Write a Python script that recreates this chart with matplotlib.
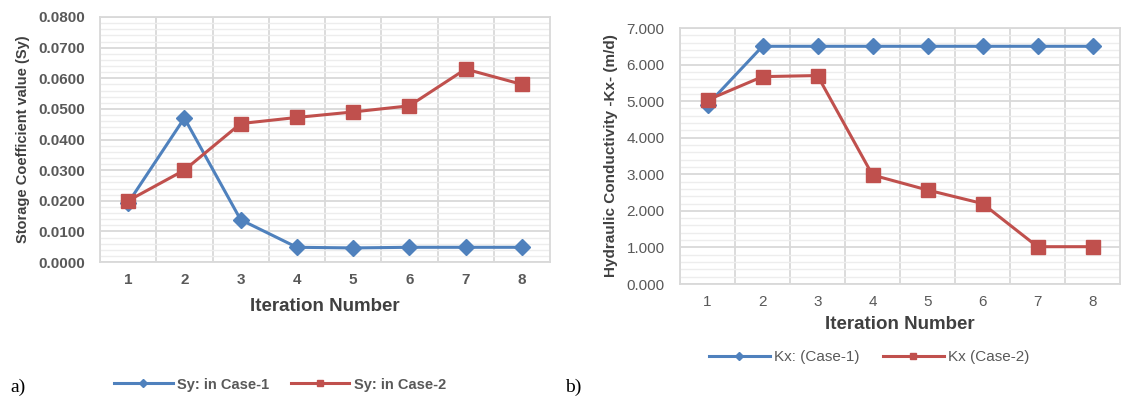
import matplotlib
matplotlib.use('Agg')
import matplotlib.pyplot as plt
from matplotlib.ticker import MultipleLocator, FixedLocator

plt.rcParams['font.family'] = ['Liberation Sans', 'DejaVu Sans']

iterations = [1, 2, 3, 4, 5, 6, 7, 8]

# storage coefficient (Sy)
sy_case1 = [0.0193, 0.0470, 0.0138, 0.0048, 0.0046, 0.0048, 0.0048, 0.0048]
sy_case2 = [0.0200, 0.0300, 0.0452, 0.0472, 0.0490, 0.0510, 0.0630, 0.0580]

# hydraulic conductivity (Kx)
kx_case1 = [4.90, 6.50, 6.50, 6.50, 6.50, 6.50, 6.50, 6.50]
kx_case2 = [5.03, 5.67, 5.70, 2.98, 2.57, 2.20, 1.02, 1.02]

blue = '#4F81BD'
red = '#C0504D'
txt = '#595959'


def style_axes(ax, major, minor, ymax):
    ax.set_xlim(0.5, 8.5)
    ax.set_ylim(0, ymax)
    ax.set_xticks(iterations)
    ax.xaxis.set_minor_locator(FixedLocator([i + 0.5 for i in range(0, 8)]))
    ax.yaxis.set_major_locator(MultipleLocator(major))
    ax.yaxis.set_minor_locator(MultipleLocator(minor))
    ax.grid(which='major', color='#D9D9D9', linewidth=1.3)
    ax.grid(which='minor', axis='y', color='#EDEDED', linewidth=1.0)
    ax.grid(which='major', axis='x', visible=False)
    ax.grid(which='minor', axis='x', color='#D9D9D9', linewidth=1.3)
    ax.set_axisbelow(True)
    for s in ax.spines.values():
        s.set_color('#D9D9D9')
        s.set_linewidth(1.3)
    ax.tick_params(which='both', length=0, colors=txt)
    ax.tick_params(axis='y', pad=11)
    ax.tick_params(axis='x', pad=8)


fig = plt.figure(figsize=(11.21, 4.0), dpi=100)

# a) storage coefficient
ax1 = fig.add_axes([100 / 1121, 1 - 262 / 400, 450 / 1121, 245 / 400])
style_axes(ax1, 0.01, 0.002, 0.08)
ax1.plot(iterations, sy_case1, color=blue, lw=2.2, marker='D', ms=8, label='Sy: in Case-1')
ax1.plot(iterations, sy_case2, color=red, lw=2.2, marker='s', ms=10, label='Sy: in Case-2')
ax1.yaxis.set_major_formatter(plt.FuncFormatter(lambda v, p: f'{v:.4f}'))
for lab in ax1.get_xticklabels() + ax1.get_yticklabels():
    lab.set_fontweight('bold')
    lab.set_fontsize(11)
ax1.set_ylabel('Storage Coefficient value (Sy)', fontsize=10.5, fontweight='bold', color='#404040', labelpad=6)
ax1.set_xlabel('Iteration Number', fontsize=13.5, fontweight='bold', color='#404040', labelpad=8)
leg1 = ax1.legend(loc='center', bbox_to_anchor=(0.4, -0.5), ncol=2, frameon=False,
                  prop={'size': 10.5, 'weight': 'bold'}, handlelength=4, columnspacing=1.5,
                  markerscale=0.5, handletextpad=0.3)
for t in leg1.get_texts():
    t.set_color(txt)

# b) hydraulic conductivity
ax2 = fig.add_axes([680 / 1121, 1 - 284 / 400, 440 / 1121, 256 / 400])
style_axes(ax2, 1.0, 0.2, 7.0)
ax2.plot(iterations, kx_case1, color=blue, lw=2.2, marker='D', ms=8, label='Kx: (Case-1)')
ax2.plot(iterations, kx_case2, color=red, lw=2.2, marker='s', ms=10, label='Kx (Case-2)')
ax2.yaxis.set_major_formatter(plt.FuncFormatter(lambda v, p: f'{v:.3f}'))
for lab in ax2.get_xticklabels() + ax2.get_yticklabels():
    lab.set_fontsize(11)
ax2.set_ylabel('Hydraulic Conductivity -Kx- (m/d)', fontsize=11, fontweight='bold', color='#404040', labelpad=6)
ax2.set_xlabel('Iteration Number', fontsize=13.5, fontweight='bold', color='#404040', labelpad=5)
leg2 = ax2.legend(loc='center', bbox_to_anchor=(0.43, -0.285), ncol=2, frameon=False,
                  prop={'size': 11}, handlelength=4, columnspacing=1.5,
                  markerscale=0.5, handletextpad=0.3)
for t in leg2.get_texts():
    t.set_color(txt)

fig.text(10 / 1121, 1 - 387 / 400, 'a)', family='Liberation Serif', fontsize=14, va='center')
fig.text(565 / 1121, 1 - 387 / 400, 'b)', family='Liberation Serif', fontsize=14, va='center')

fig.savefig('out.png', dpi=100, facecolor='white')
